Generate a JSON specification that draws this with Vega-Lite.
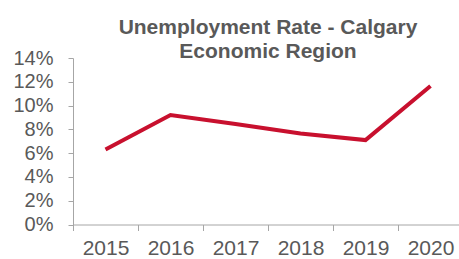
{
  "$schema": "https://vega.github.io/schema/vega-lite/v6.json",
  "autosize": {"type": "none"},
  "padding": {"left": 73, "top": 58, "right": 0, "bottom": 35},
  "width": 390,
  "height": 166.5,
  "background": "white",
  "title": {
    "text": ["Unemployment Rate - Calgary", "Economic Region"],
    "font": "Liberation Sans",
    "fontSize": 21,
    "fontWeight": "bold",
    "color": "#595959",
    "lineHeight": 24,
    "anchor": "middle",
    "offset": -14
  },
  "data": {
    "values": [
      {"year": "2015", "rate": 6.3},
      {"year": "2016", "rate": 9.2},
      {"year": "2017", "rate": 8.45},
      {"year": "2018", "rate": 7.65},
      {"year": "2019", "rate": 7.1},
      {"year": "2020", "rate": 11.65}
    ]
  },
  "mark": {"type": "line", "color": "#C8102E", "strokeWidth": 4, "strokeJoin": "miter"},
  "encoding": {
    "x": {
      "field": "year",
      "type": "ordinal",
      "scale": {"type": "band", "paddingInner": 0, "paddingOuter": 0},
      "axis": {
        "title": null,
        "labelAngle": 0,
        "tickBand": "extent",
        "tickSize": 6,
        "labelPadding": 7,
        "labelFont": "Liberation Sans",
        "labelFontSize": 21,
        "labelColor": "#595959",
        "domainColor": "#A6A6A6",
        "tickColor": "#A6A6A6",
        "grid": false
      }
    },
    "y": {
      "field": "rate",
      "type": "quantitative",
      "scale": {"domain": [0, 14], "nice": false},
      "axis": {
        "title": null,
        "values": [0, 2, 4, 6, 8, 10, 12, 14],
        "labelExpr": "datum.value + '%'",
        "tickSize": 5,
        "labelPadding": 15,
        "labelFont": "Liberation Sans",
        "labelFontSize": 20,
        "labelColor": "#595959",
        "domainColor": "#A6A6A6",
        "tickColor": "#A6A6A6",
        "grid": false
      }
    }
  },
  "config": {"view": {"stroke": null}}
}
